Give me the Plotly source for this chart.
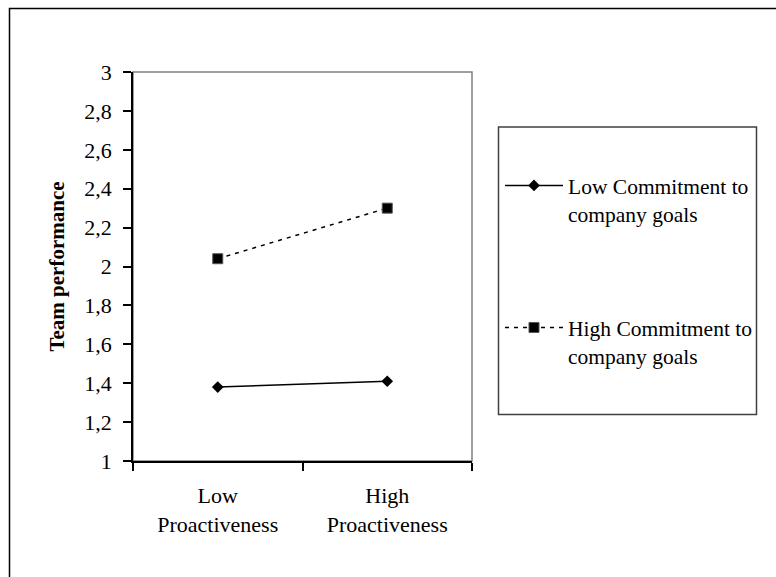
import plotly.graph_objects as go

# Interaction plot: team performance by proactiveness and commitment
categories = ["Low<br>Proactiveness", "High<br>Proactiveness"]
low_commitment = [1.38, 1.41]
high_commitment = [2.04, 2.30]
series_names = ["Low Commitment to<br>company goals", "High Commitment to<br>company goals"]
y_ticks = [1, 1.2, 1.4, 1.6, 1.8, 2, 2.2, 2.4, 2.6, 2.8, 3]

FONT = "Liberation Serif, Times New Roman, serif"
W, H = 776, 577
L, R, T, B = 133, 472, 72, 461
pw, ph = R - L, B - T


def px(x):
    return (x - L) / pw


def py(y):
    return (B - y) / ph


fig = go.Figure()
fig.add_trace(go.Scatter(
    x=categories, y=low_commitment, name=series_names[0], mode="lines+markers",
    line=dict(color="black", width=1.5),
    marker=dict(symbol="diamond", size=9, color="black"),
    legend="legend",
))
fig.add_trace(go.Scatter(
    x=categories, y=high_commitment, name=series_names[1], mode="lines+markers",
    line=dict(color="black", width=1.5, dash="4px,5px"),
    marker=dict(symbol="square", size=10, color="black", line=dict(color="#555", width=1)),
    legend="legend2",
))

shapes = [
    # outer frame
    dict(type="rect", xref="paper", yref="paper", x0=px(9.5), x1=px(790), y0=py(590), y1=py(8.5),
         line=dict(color="black", width=1.5), layer="below"),
    # plot area frame
    dict(type="rect", xref="paper", yref="paper", x0=0, x1=1, y0=0, y1=1,
         line=dict(color="#808080", width=1.5), layer="below"),
    # legend box
    dict(type="rect", xref="paper", yref="paper", x0=px(498.5), x1=px(756.5), y0=py(414.5), y1=py(127),
         line=dict(color="#404040", width=1.5), layer="below"),
]

legend_common = dict(
    font=dict(family=FONT, size=21.5, color="black"),
    bgcolor="rgba(0,0,0,0)", borderwidth=0, itemwidth=58,
    xanchor="left", yanchor="top", valign="top",
)

fig.update_layout(
    width=W, height=H,
    margin=dict(l=L, r=W - R, t=T, b=H - B),
    paper_bgcolor="white", plot_bgcolor="white",
    separators=",.",
    font=dict(family=FONT, size=22, color="black"),
    showlegend=True,
    legend=dict(x=px(500), y=py(165), **legend_common),
    legend2=dict(x=px(500), y=py(307), **legend_common),
    shapes=shapes,
    xaxis=dict(
        type="category", range=[-0.5, 1.5], tickson="boundaries",
        ticks="outside", ticklen=8, tickwidth=1.5, tickcolor="black",
        showline=True, linecolor="black", linewidth=1.5,
        showgrid=False, zeroline=False,
        tickfont=dict(family=FONT, size=22), ticklabelstandoff=14,
    ),
    yaxis=dict(
        range=[1, 3], tickvals=y_ticks,
        ticks="outside", ticklen=8, tickwidth=1.5, tickcolor="black",
        showline=True, linecolor="black", linewidth=1.5,
        showgrid=False, zeroline=False,
        tickfont=dict(family=FONT, size=22), ticklabelstandoff=7,
        title=dict(text="<b>Team performance</b>", font=dict(family=FONT, size=21), standoff=14),
    ),
)

fig.write_html("out.html")
